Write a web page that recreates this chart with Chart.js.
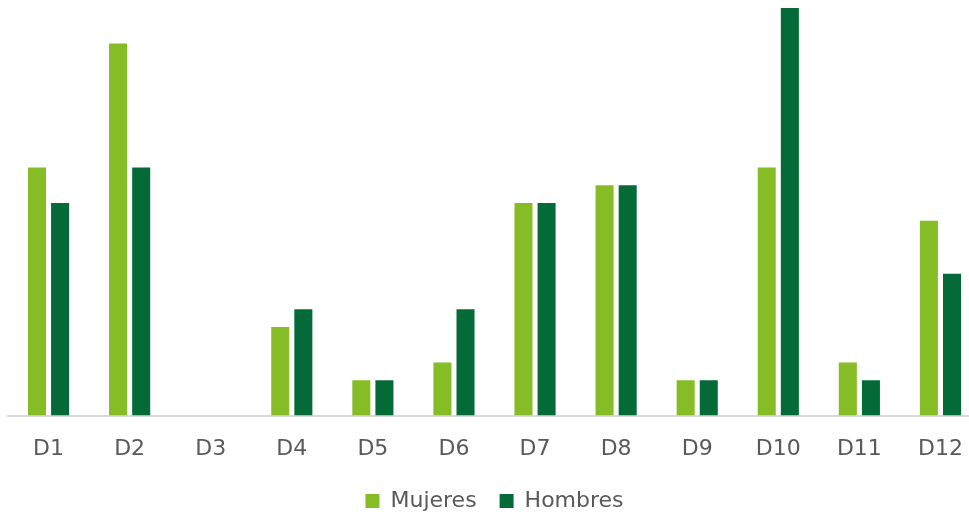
<!DOCTYPE html>
<html><head><meta charset="utf-8">
<script src="https://cdn.jsdelivr.net/npm/chart.js@4.4.0/dist/chart.umd.min.js"></script>
<style>
html,body{margin:0;padding:0;background:#fff;overflow:hidden;width:969px;height:516px;}
#wrap{position:absolute;left:0;top:0;width:996px;height:522px;}
</style></head><body>
<div id="wrap"><canvas id="c"></canvas></div>
<script>
const categories = ["D1","D2","D3","D4","D5","D6","D7","D8","D9","D10","D11","D12"];
const mujeres = [14,21,0,5,2,3,12,13,2,14,3,11];
const hombres = [12,14,0,6,2,6,12,13,2,23,2,8];
const seriesNames = ["Mujeres","Hombres"];

new Chart(document.getElementById('c'), {
  type: 'bar',
  data: {
    labels: categories,
    datasets: [
      {label: seriesNames[0], data: mujeres, backgroundColor: '#86bc25', barPercentage: 0.78, categoryPercentage: 0.57},
      {label: seriesNames[1], data: hombres, backgroundColor: '#046a38', barPercentage: 0.78, categoryPercentage: 0.57}
    ]
  },
  options: {
    responsive: true,
    maintainAspectRatio: false,
    animation: false,
    layout: {padding: {left: 8, right: 15, top: 8, bottom: 0}},
    plugins: {
      tooltip: {enabled: false},
      legend: {
        position: 'bottom',
        labels: {
          font: {family: 'DejaVu Sans', size: 22},
          color: '#595959',
          boxWidth: 14, boxHeight: 14,
          padding: 23
        }
      }
    },
    scales: {
      x: {
        grid: {display: false, drawTicks: false},
        border: {color: '#d9d9d9', width: 2},
        ticks: {font: {family: 'DejaVu Sans', size: 22}, color: '#595959', padding: 20},
        afterFit: function(scale){ scale.height -= 15; }
      },
      y: {display: false, min: 0, max: 23}
    }
  }
});
</script>
</body></html>
